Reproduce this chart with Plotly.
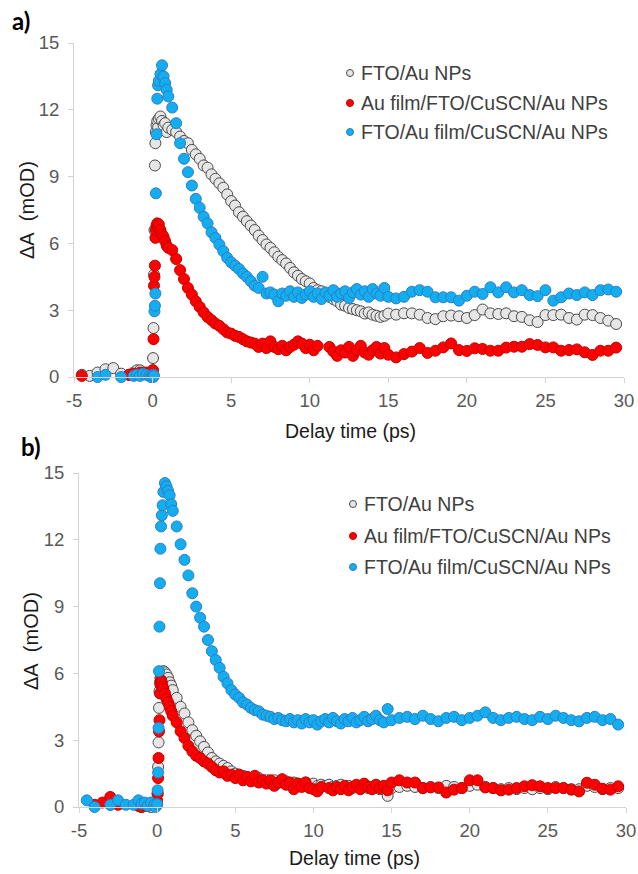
import plotly.graph_objects as go

# ---------------- data ----------------
# shared delay-time grid (ps)
T = [-4.5, -4.0, -3.5, -3.0, -2.5, -2.0, -1.5, -1.2, -1.0, -0.8, -0.6, -0.4, -0.2, -0.1,
     0.0, 0.03, 0.06, 0.09, 0.12, 0.15, 0.18, 0.21, 0.25, 0.3, 0.35, 0.4, 0.5, 0.6, 0.7, 0.8, 0.9, 1.0,
     1.25, 1.5, 1.75, 2.0, 2.25, 2.5, 2.75, 3.0, 3.25, 3.5, 3.75, 4.0, 4.25, 4.5, 4.75, 5.0,
     5.25, 5.5, 5.75, 6.0, 6.25, 6.5, 6.75, 7.0, 7.25, 7.5, 7.75, 8.0, 8.25, 8.5, 8.75, 9.0,
     9.25, 9.5, 9.75, 10.0, 10.25, 10.5, 10.75, 11.0, 11.25, 11.5, 11.75, 12.0, 12.25, 12.5, 12.75, 13.0,
     13.25, 13.5, 13.75, 14.0, 14.25, 14.5, 14.75, 15.0,
     15.5, 16.0, 16.5, 17.0, 17.5, 18.0, 18.5, 19.0, 19.5, 20.0, 20.5, 21.0, 21.5, 22.0, 22.5,
     23.0, 23.5, 24.0, 24.5, 25.0, 25.5, 26.0, 26.5, 27.0, 27.5, 28.0, 28.5, 29.0, 29.5]

# panel a) values (mOD)
GREY_A = [0.1, 0.05, 0.2, 0.35, 0.4, 0.15, 0.1, 0.2, 0.3, 0.3, 0.2, 0.15, 0.1, 0.1,
          0.3, 0.85, 2.2, 4.6, 6.6, 9.5, 10.5, 11.0, 11.3, 11.5, 11.2, 11.6, 11.7, 11.5, 11.3, 11.4, 11.0, 11.2,
          11.1, 11.0, 10.8, 10.6, 10.5, 10.2, 10.0, 9.8, 9.5, 9.4, 9.1, 8.9, 8.7, 8.5, 8.2, 7.9,
          7.7, 7.4, 7.2, 7.0, 6.8, 6.6, 6.35, 6.15, 5.95, 5.8, 5.6, 5.4, 5.25, 5.1, 4.9, 4.7,
          4.55, 4.4, 4.3, 4.2, 4.0, 3.9, 3.85, 3.75, 3.6, 3.5, 3.4, 3.25, 3.2, 3.1, 3.05, 3.0,
          2.95, 2.85, 2.9, 2.8, 2.75, 2.7, 2.75, 2.85,
          2.8, 2.86, 2.86, 2.8, 2.65, 2.6, 2.73, 2.76, 2.73, 2.65, 2.78, 3.03, 2.86, 2.83, 2.86,
          2.73, 2.7, 2.55, 2.47, 2.78, 2.78, 2.8, 2.65, 2.58, 2.8, 2.78, 2.65, 2.53, 2.38]
RED_A = [0.05, None, None, None, None, None, 0.1, 0.15, 0.1, 0.2, 0.15, 0.2, 0.15, 0.1,
         0.2, 0.3, 1.7, 4.1, 4.5, 5.0, 6.25, 6.6, 6.8, 6.9, 6.7, 6.85, 6.6, 6.4, 6.3, 6.1, 5.9, 5.8,
         5.7, 5.3, 4.8, 4.4, 4.0, 3.7, 3.4, 3.15, 2.9, 2.7, 2.55, 2.4, 2.3, 2.15, 2.0, 1.95,
         1.85, 1.8, 1.7, 1.6, 1.55, 1.5, 1.35, 1.5, 1.3, 1.6, 1.35, 1.25, 1.4, 1.2, 1.35, 1.45,
         1.6, 1.5, 1.3, 1.45, 1.2, 1.4, None, None, 1.35, 1.15, 0.95, 1.2, 1.1, 1.35, 0.95, 1.2,
         1.4, 1.1, 1.0, 1.2, 1.35, 1.05, 1.3, 1.0,
         0.88, 1.03, 1.14, 1.3, 1.08, 1.18, 1.33, 1.51, 1.21, 1.17, 1.29, 1.26, 1.18, 1.18, 1.32,
         1.36, 1.36, 1.48, 1.44, 1.33, 1.33, 1.18, 1.21, 1.24, 1.11, 0.99, 1.18, 1.18, 1.32]
BLUE_A = [None, None, 0.0, 0.1, None, 0.0, None, 0.05, 0.1, 0.05, 0.15, 0.1, 0.05, 0.0,
          0.05, 0.0, 0.1, 0.05, 2.95, 3.2, 3.75, 8.25, 10.9, 12.5, 13.1, 13.3, 13.6, 14.0, 13.5, 13.2, 12.9, 12.6,
          12.1, 11.4, 10.5, 9.8, 9.2, 8.6, 8.0, 7.6, 7.2, 6.9, 6.5, 6.25, 5.95, 5.65, 5.35, 5.15,
          5.0, 4.85, 4.65, 4.5, 4.3, 4.1, 4.0, 4.5, 3.75, 3.8, 3.7, 3.4, 3.75, 3.65, 3.85, 3.6,
          3.8, 3.55, 3.7, 3.85, 3.6, 3.75, 3.5, 3.8, 3.65, 3.9, 3.6, 3.75, 3.85, 3.55, 3.8, 3.95,
          3.7, 3.85, 3.6, 3.95, 3.75, 3.65, 4.0, 3.6,
          3.53, 3.6, 3.83, 3.9, 3.83, 3.58, 3.58, 3.58, 3.43, 3.65, 3.83, 3.73, 4.03, 3.8, 4.03,
          3.8, 3.9, 3.68, 3.63, 3.9, 3.43, 3.58, 3.75, 3.68, 3.8, 3.68, 3.9, 3.93, 3.83]

# panel b) values (mOD)
GREY_B = [None, None, None, 0.1, 0.2, None, None, 0.1, 0.0, 0.05, 0.1, 0.0, 0.1, 0.05,
          0.1, 0.6, 1.8, 2.9, 4.45, 5.2, 5.6, 5.8, 5.9, 6.0, 6.05, 6.1, 6.05, 5.95, 5.8, 5.6, 5.45, 5.25,
          4.9, 4.5, 4.2, 3.8, 3.45, 3.2, 2.95, 2.7, 2.45, 2.2, 2.05, 1.95, 1.85, 1.75, 1.6, 1.5,
          1.45, 1.4, 1.35, 1.3, 1.25, 1.3, 1.2, 1.2, 1.15, 1.2, 1.1, 1.1, 1.15, 1.05, 1.1, 1.05,
          1.0, 1.1, 1.0, 1.05, 0.95, 1.0, 0.95, 1.0, 0.9, 0.95, 1.0, 0.9, 0.95, 0.85, 0.95, 0.9,
          0.95, 0.85, 0.9, 0.95, 0.8, 0.9, 0.5, 0.85,
          0.9, 0.95, 0.9, 0.85, 0.9, 0.85, 0.95, 0.9, 0.85, 0.95, 1.0, 0.9, 0.85, 0.8, 0.85,
          0.8, 0.85, 0.8, 0.85, 0.8, 0.9, 0.85, 0.8, 0.8, 0.95, 0.9, 0.8, 0.85, 0.85]
RED_B = [None, 0.1, 0.2, 0.45, 0.1, None, None, 0.05, 0.0, 0.1, 0.05, 0.15, 0.1, 0.2,
         0.3, 0.6, 1.3, 2.2, 3.4, 3.9, 5.1, 5.5, 5.7, 5.6, 5.4, 5.3, 5.1, 4.85, 4.7, 4.5, 4.3, 4.1,
         3.8, 3.4, 3.1, 2.75, 2.5, 2.3, 2.2, 2.05, 1.95, 1.8, 1.65, 1.55, 1.6, 1.4, 1.45, 1.3,
         1.45, 1.2, 1.35, 1.15, 1.4, 1.1, 1.2, 1.05, 1.2, 0.95, 1.1, 1.25, 1.0, 1.1, 0.8, 1.05,
         0.9, 1.1, 0.85, 0.8, 0.7, 0.9, None, 0.85, 0.75, 0.9, 0.8, 0.95, 0.75, 0.9, 1.0, 0.8,
         1.05, 0.9, 0.8, 1.0, 0.85, 0.95, 0.75, 1.1,
         1.2, 1.1, 1.1, 0.85, 0.88, 0.88, 0.65, 0.78, 0.85, 1.2, 1.2, 0.88, 0.85, 0.75, 0.78,
         0.85, 0.93, 0.98, 0.93, 0.85, 0.85, 0.85, 0.78, 0.7, 1.09, 1.0, 0.82, 0.78, 0.93]
BLUE_B = [0.3, 0.0, None, 0.1, 0.3, 0.1, 0.1, 0.3, 0.15, 0.2, 0.05, 0.2, 0.1, 0.0,
          0.13, 0.75, 1.55, 3.55, 6.1, 8.1, 10.05, 11.6, 12.6, 13.1, 13.55, 14.15, 14.55, 14.4, 14.2, 14.0, 13.6, 13.3,
          12.6, 11.8, 11.1, 10.4, 9.6, 9.0, 8.5, 8.1, 7.5, 7.0, 6.6, 6.25, 5.85, 5.55, 5.25, 5.05,
          4.9, 4.7, 4.6, 4.45, 4.35, 4.3, 4.15, 4.1, 4.05, 3.95, 4.0, 3.9, 3.85, 3.95, 3.8, 3.9,
          3.75, 3.95, 3.8, 3.9, 3.7, 3.85, 3.95, 3.8, 4.0, 3.85, 3.75, 3.95, 3.85, 4.0, 3.8, 3.9,
          4.05, 3.85, 3.95, 4.1, 3.9, 3.8, 4.4, 3.9,
          4.0, 4.05, 3.95, 4.1, 3.95, 3.85, 4.0, 4.05, 3.9, 4.0, 4.1, 4.25, 4.0, 3.9, 4.0,
          4.05, 3.95, 3.9, 4.05, 3.95, 4.1, 4.0, 3.9, 3.85, 4.0, 4.05, 3.9, 3.95, 3.7]

SERIES_NAMES = ["FTO/Au NPs", "Au film/FTO/CuSCN/Au NPs", "FTO/Au film/CuSCN/Au NPs"]
XTICKS = [-5, 0, 5, 10, 15, 20, 25, 30]
XTICKTEXT = ["-5", "0", "5", "10", "15", "20", "25", "30"]
YTICKS = [0, 3, 6, 9, 12, 15]
YTICKTEXT = ["0", "3", "6", "9", "12", "15"]
X_TITLE = "Delay time (ps)"
Y_TITLE = "\u0394A\u00a0 (mOD)"

# ---------------- styles ----------------
W, H = 638, 874
FONT = "Liberation Sans, Arial, sans-serif"
FILLS = ["#e6e6e6", "#ff0000", "#12aef0"]
LINES = ["#4a4a4a", "#c40000", "#2f7dc4"]

# legend placement in figure pixels (marker x, text x, row y's)
LEG_A = (350, 359, [73, 103, 132])
LEG_B = (353, 362, [504, 536, 567])

fig = go.Figure()

panels = [("x", "y", [GREY_A, RED_A, BLUE_A]), ("x2", "y2", [GREY_B, RED_B, BLUE_B])]
for xa, ya, sers in panels:
    for i, vals in enumerate(sers):
        fig.add_trace(go.Scatter(
            x=T, y=vals, mode="markers", xaxis=xa, yaxis=ya, showlegend=False,
            cliponaxis=False, hoverinfo="skip",
            marker=dict(size=11, color=FILLS[i], line=dict(color=LINES[i], width=1)),
        ))

annotations = []
for mx, tx, rows in (LEG_A, LEG_B):
    for i, name in enumerate(SERIES_NAMES):
        fig.add_trace(go.Scatter(
            x=[mx], y=[rows[i]], mode="markers", xaxis="x3", yaxis="y3",
            showlegend=False, cliponaxis=False, hoverinfo="skip",
            marker=dict(size=7, color=FILLS[i], line=dict(color=LINES[i], width=1)),
        ))
        annotations.append(dict(
            text=name, x=tx / W, y=1 - rows[i] / H, xref="paper", yref="paper",
            xanchor="left", yanchor="middle", showarrow=False,
            font=dict(family=FONT, size=19.5, color="#404040")))

ax_common = dict(showline=True, linecolor="#d3d3d3", linewidth=1, showgrid=False,
                 zeroline=False, ticks="outside", ticklen=5, tickcolor="#d3d3d3",
                 automargin=False,
                 tickfont=dict(family=FONT, size=18.5, color="#595959"))
xcommon = dict(ax_common, range=[-5, 30], tickvals=XTICKS, ticktext=XTICKTEXT,
               ticklabelstandoff=2)
ycommon = dict(ax_common, range=[0, 15], tickvals=YTICKS, ticktext=YTICKTEXT,
               ticklabelstandoff=5)


def px(v):
    return v / W


def py(v):
    return 1 - v / H


def txt(text, x, y, size, angle=0, family=FONT, color="#1a1a1a"):
    return dict(text=text, x=px(x), y=py(y), xref="paper", yref="paper",
                xanchor="center", yanchor="middle", showarrow=False, textangle=angle,
                font=dict(family=family, size=size, color=color))


annotations += [
    txt("<b>a)</b>", 21, 20, 24, family="Lato, sans-serif", color="black"),
    txt("<b>b)</b>", 31, 447, 24, family="Lato, sans-serif", color="black"),
    txt(X_TITLE, 350, 431, 19.5),
    txt(X_TITLE, 354, 858, 19.5),
    txt(Y_TITLE, 27, 210, 20, angle=-90),
    txt(Y_TITLE, 31, 641, 20, angle=-90),
]

fig.update_layout(
    template="none",
    width=W, height=H, margin=dict(l=0, r=0, t=0, b=0, autoexpand=False),
    paper_bgcolor="white", plot_bgcolor="rgba(0,0,0,0)",
    showlegend=False,
    xaxis=dict(xcommon, domain=[px(74), px(624)], anchor="y"),
    yaxis=dict(ycommon, domain=[py(377), py(43)], anchor="x"),
    xaxis2=dict(xcommon, domain=[px(79), px(626)], anchor="y2"),
    yaxis2=dict(ycommon, domain=[py(807), py(473)], anchor="x2"),
    xaxis3=dict(domain=[0, 1], range=[0, W], visible=False, automargin=False,
                anchor="y3", fixedrange=True),
    yaxis3=dict(domain=[0, 1], range=[H, 0], visible=False, automargin=False,
                anchor="x3", fixedrange=True),
    annotations=annotations,
)

fig.write_html("out.html", config={"displayModeBar": False},
               post_script="document.body.style.margin='0px';document.body.style.overflow='hidden';")
